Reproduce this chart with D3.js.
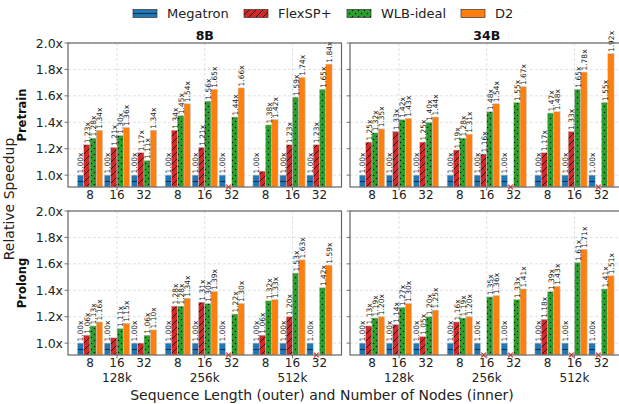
<!DOCTYPE html>
<html><head><meta charset="utf-8">
<script src="https://cdn.jsdelivr.net/npm/d3@7"></script>
<style>body{margin:0;background:#fff}svg{display:block;font-family:"DejaVu Sans",sans-serif}</style>
</head><body><svg id="c" width="619" height="404"></svg>
<script>
// ---- data ----
const seqLens = ["128k", "256k", "512k"];
const nodeCounts = ["8", "16", "32"];
const seriesNames = ["Megatron", "FlexSP+", "WLB-ideal", "D2"];
const models = ["8B", "34B"];
const stages = ["Pretrain", "Prolong"];
const yTicks = [1.0, 1.2, 1.4, 1.6, 1.8, 2.0];

// clusters ordered: 128k-8,16,32, 256k-8,16,32, 512k-8,16,32 ; null = not run
const megatron = [1.00, 1.00, 1.00, 1.00, 1.00, 1.00, 1.00, 1.00, 1.00];

const pretrain8B_flexsp = [1.23, 1.21, 1.17, 1.34, 1.21, null, 1.03, 1.23, 1.23];
const pretrain8B_wlb    = [1.28, 1.30, 1.11, 1.45, 1.56, 1.44, 1.38, 1.59, 1.65];
const pretrain8B_d2     = [1.34, 1.36, 1.34, 1.54, 1.65, 1.66, 1.42, 1.74, 1.84];

const pretrain34B_flexsp = [1.25, 1.33, 1.25, 1.19, 1.16, null, 1.17, 1.33, null];
const pretrain34B_wlb    = [1.32, 1.42, 1.40, 1.28, 1.48, 1.55, 1.47, 1.65, 1.55];
const pretrain34B_d2     = [1.35, 1.43, 1.44, 1.31, 1.54, 1.67, 1.48, 1.78, 1.92];

const prolong8B_flexsp = [1.06, 1.04, 1.00, 1.28, 1.31, null, 1.06, 1.20, null];
const prolong8B_wlb    = [1.13, 1.11, 1.06, 1.28, 1.30, 1.22, 1.32, 1.53, 1.42];
const prolong8B_d2     = [1.16, 1.15, 1.10, 1.34, 1.39, 1.30, 1.33, 1.63, 1.59];

const prolong34B_flexsp = [1.13, 1.14, 1.05, 1.16, null, null, 1.18, null, null];
const prolong34B_wlb    = [1.19, 1.27, 1.20, 1.19, 1.35, 1.33, 1.39, 1.61, 1.41];
const prolong34B_d2     = [1.20, 1.30, 1.25, 1.20, 1.36, 1.41, 1.43, 1.71, 1.51];

const panelData = [
  [[megatron, pretrain8B_flexsp, pretrain8B_wlb, pretrain8B_d2],
   [megatron, pretrain34B_flexsp, pretrain34B_wlb, pretrain34B_d2]],
  [[megatron, prolong8B_flexsp, prolong8B_wlb, prolong8B_d2],
   [megatron, prolong34B_flexsp, prolong34B_wlb, prolong34B_d2]]
];

// ---- style ----
const colors = ["#1f77b4", "#d62728", "#2ca02c", "#ff7f0e"];
const fills = ["url(#hMeg)", "url(#hFlex)", "url(#hWlb)", "#ff7f0e"];
const colX = [[68, 341.5], [350, 623.5]];
const rowY = [[43, 187], [211, 355]];
const groupGap = 3.25;
const barW = 6.3;

const svg = d3.select("#c");
const defs = svg.append("defs");
// Megatron hatch
let p = defs.append("pattern").attr("id", "hMeg").attr("patternUnits", "userSpaceOnUse")
  .attr("width", 12).attr("height", 12);
p.append("rect").attr("width", 12).attr("height", 12).attr("fill", colors[0]);
p.append("line").attr("x1", 0).attr("x2", 12).attr("y1", 1.5).attr("y2", 1.5)
  .attr("stroke", "#10324d").attr("stroke-width", 1.1);
// FlexSP hatch
p = defs.append("pattern").attr("id", "hFlex").attr("patternUnits", "userSpaceOnUse")
  .attr("width", 7).attr("height", 7);
p.append("rect").attr("width", 7).attr("height", 7).attr("fill", colors[1]);
p.append("path").attr("d", "M-1,8 L8,-1 M-1,1 L1,-1 M6,8 L8,6")
  .attr("stroke", "#111").attr("stroke-width", 0.9);
// WLB dots
p = defs.append("pattern").attr("id", "hWlb").attr("patternUnits", "userSpaceOnUse")
  .attr("width", 6).attr("height", 6);
p.append("rect").attr("width", 6).attr("height", 6).attr("fill", colors[2]);
p.append("circle").attr("cx", 1.5).attr("cy", 1.5).attr("r", 0.75).attr("fill", "#111");
p.append("circle").attr("cx", 4.5).attr("cy", 4.5).attr("r", 0.75).attr("fill", "#111");

const pos = (i) => Math.floor(i / 3) * groupGap + (i % 3);

stages.forEach((stage, r) => {
  models.forEach((model, c) => {
    const [x0, x1] = colX[c];
    const [yt, yb] = rowY[r];
    const x = d3.scaleLinear().domain([-0.815, 9.315]).range([x0, x1]);
    const y = d3.scaleLinear().domain([0.91, 2.0]).range([yb, yt]);
    const g = svg.append("g");

    // grid
    g.selectAll("line.hg").data(yTicks).join("line")
      .attr("x1", x0).attr("x2", x1).attr("y1", d => y(d)).attr("y2", d => y(d))
      .attr("stroke", "#d9d9d9").attr("stroke-width", 0.8).attr("stroke-dasharray", "3,2");
    const groupCenters = seqLens.map((s, gi) => gi * groupGap + 1);
    g.selectAll("line.vg").data(groupCenters).join("line")
      .attr("x1", d => x(d)).attr("x2", d => x(d)).attr("y1", yt).attr("y2", yb)
      .attr("stroke", "#d9d9d9").attr("stroke-width", 0.8).attr("stroke-dasharray", "3,2");

    const clipId = `clip${r}${c}`;
    defs.append("clipPath").attr("id", clipId).append("rect")
      .attr("x", x0).attr("y", yt - 30).attr("width", x1 - x0).attr("height", yb - yt + 30);

    const vals = panelData[r][c];
    const bars = g.append("g").attr("clip-path", `url(#${clipId})`);
    for (let s = 0; s < 4; s++) {
      vals[s].forEach((v, i) => {
        const cx = x(pos(i)) + (s - 1.5) * barW;
        if (v === null) {
          const m = 2.3;
          g.append("path").attr("d", `M${cx - m},${yb - m}L${cx + m},${yb + m}M${cx - m},${yb + m}L${cx + m},${yb - m}`)
            .attr("stroke", "#ff2020").attr("stroke-width", 1.2);
          return;
        }
        bars.append("rect").attr("x", cx - barW / 2).attr("y", y(v))
          .attr("width", barW).attr("height", yb - y(v))
          .attr("fill", fills[s]).attr("stroke", "#c8c8c8").attr("stroke-width", 0.5);
        if (s === 0 || v >= 1.05) {
          g.append("text").attr("transform", `translate(${cx + 0.3},${y(v) - 1.5}) rotate(-90)`)
            .attr("dy", "0.35em").attr("font-size", 7.5).attr("fill", "#222")
            .text(v.toFixed(2) + "x");
        }
      });
    }

    // spines
    g.append("rect").attr("x", x0).attr("y", yt).attr("width", x1 - x0).attr("height", yb - yt)
      .attr("fill", "none").attr("stroke", "#666").attr("stroke-width", 1.2);

    // y ticks
    g.selectAll("line.yt").data(yTicks).join("line")
      .attr("x1", x0 - 3.5).attr("x2", x0).attr("y1", d => y(d)).attr("y2", d => y(d))
      .attr("stroke", "#555").attr("stroke-width", 0.8);
    if (c === 0) {
      g.selectAll("text.yl").data(yTicks).join("text")
        .attr("x", x0 - 5).attr("y", d => y(d)).attr("dy", "0.36em")
        .attr("text-anchor", "end").attr("font-size", 12.5).attr("fill", "#222")
        .text(d => d.toFixed(1) + "x");
    }
    // x ticks at group centers
    g.selectAll("line.xt").data(groupCenters).join("line")
      .attr("x1", d => x(d)).attr("x2", d => x(d)).attr("y1", yb).attr("y2", yb + 3.5)
      .attr("stroke", "#555").attr("stroke-width", 0.8);
    // node labels
    const idx = d3.range(9);
    g.selectAll("text.nl").data(idx).join("text")
      .attr("x", i => x(pos(i))).attr("y", yb + 8).attr("dy", "0.36em")
      .attr("text-anchor", "middle").attr("font-size", 12).attr("fill", "#222")
      .text(i => nodeCounts[i % 3]);
    if (r === 1) {
      g.selectAll("text.gl").data(seqLens).join("text")
        .attr("x", (d, gi) => x(gi * groupGap + 1)).attr("y", yb + 22.5).attr("dy", "0.36em")
        .attr("text-anchor", "middle").attr("font-size", 12).attr("fill", "#222")
        .text(d => d);
    }
    if (r === 0) {
      g.append("text").attr("x", (x0 + x1) / 2).attr("y", yt - 3.5)
        .attr("text-anchor", "middle").attr("font-size", 12.5).attr("font-weight", "bold")
        .attr("fill", "#111").text(model);
    }
    if (c === 0) {
      g.append("text").attr("transform", `translate(22,${(yt + yb) / 2}) rotate(-90)`)
        .attr("text-anchor", "middle").attr("dy", "0.35em").attr("font-size", 11.5)
        .attr("font-weight", "bold").attr("fill", "#111").text(stage);
    }
  });
});

// shared labels
svg.append("text").attr("transform", "translate(9,199) rotate(-90)")
  .attr("text-anchor", "middle").attr("dy", "0.35em").attr("font-size", 14).attr("fill", "#222")
  .text("Relative Speedup");
svg.append("text").attr("x", 322).attr("y", 395.5).attr("dy", "0.35em")
  .attr("text-anchor", "middle").attr("font-size", 14).attr("fill", "#222")
  .text("Sequence Length (outer) and Number of Nodes (inner)");

// legend
const legX = [133, 244, 347, 461];
const leg = svg.append("g");
seriesNames.forEach((name, s) => {
  leg.append("rect").attr("x", legX[s]).attr("y", 9.5).attr("width", 24).attr("height", 8)
    .attr("fill", fills[s]).attr("stroke", "#333").attr("stroke-width", 0.7);
  leg.append("text").attr("x", legX[s] + 34).attr("y", 13.5).attr("dy", "0.36em")
    .attr("font-size", 13).attr("fill", "#222").text(name);
});
</script></body></html>
